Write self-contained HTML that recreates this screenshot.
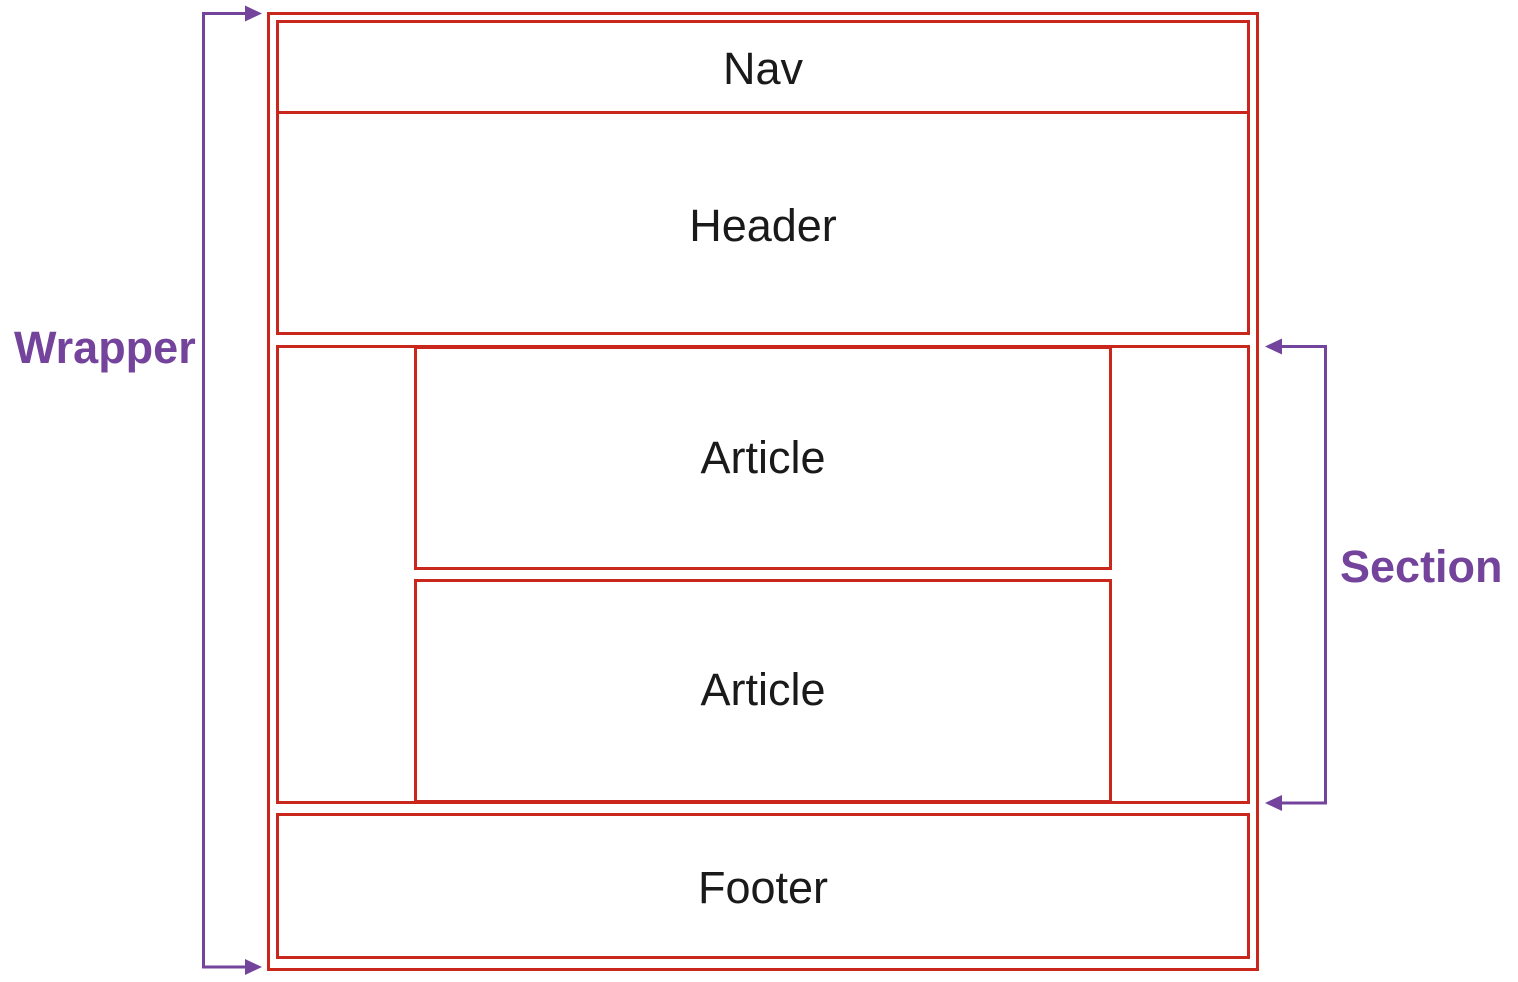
<!DOCTYPE html>
<html><head><meta charset="utf-8"><style>
html,body{margin:0;padding:0;background:#fff;width:1518px;height:982px;overflow:hidden}
</style></head><body>
<svg width="1518" height="982" xmlns="http://www.w3.org/2000/svg">
<g fill="none" stroke="#c9271b" stroke-width="3">
<rect x="268.5" y="13.5" width="989" height="956"/>
<rect x="277.5" y="21.5" width="971" height="91"/>
<rect x="277.5" y="112.5" width="971" height="221"/>
<rect x="277.5" y="346.5" width="971" height="456"/>
<rect x="415.5" y="347.5" width="695" height="221"/>
<rect x="415.5" y="580.5" width="695" height="221"/>
<rect x="277.5" y="814.5" width="971" height="143"/>
</g>
<g fill="none" stroke="#74449c" stroke-width="3">
<polyline points="248,13.5 203.5,13.5 203.5,967 248,967"/>
<polyline points="1280,346.5 1325.5,346.5 1325.5,803 1280,803"/>
</g>
<g fill="#74449c">
<polygon points="262,13.5 245,5.5 245,21.5"/>
<polygon points="262,967 245,959 245,975"/>
<polygon points="1265,346.5 1282,338.5 1282,354.5"/>
<polygon points="1265,803 1282,795 1282,811"/>
</g>
<g font-family="Liberation Sans, Helvetica, sans-serif" font-size="45" fill="#1a1a1a" text-anchor="middle">
<text x="763" y="84">Nav</text>
<text x="763" y="241">Header</text>
<text x="763" y="473">Article</text>
<text x="763" y="705">Article</text>
<text x="763" y="903">Footer</text>
</g>
<g font-family="Liberation Sans, Helvetica, sans-serif" font-size="45" font-weight="bold" fill="#74449c">
<text x="14" y="363">Wrapper</text>
<text x="1340" y="582">Section</text>
</g>
</svg>
</body></html>
